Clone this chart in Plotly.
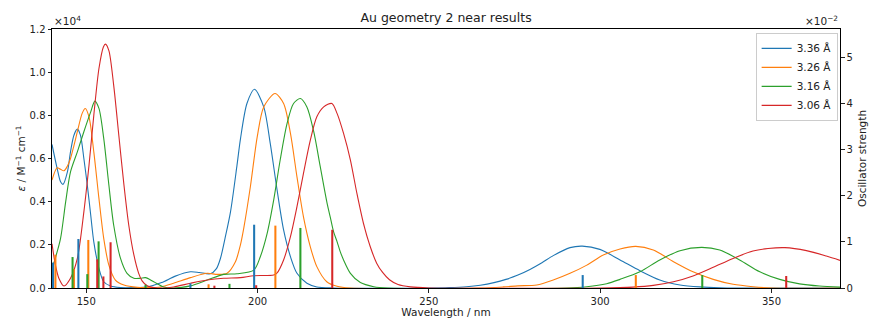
import plotly.graph_objects as go

# ---------------- data ----------------
labels = ["3.36 Å", "3.26 Å", "3.16 Å", "3.06 Å"]
colors = ["#1f77b4", "#ff7f0e", "#2ca02c", "#d62728"]

# broadened spectra (wavelength nm, epsilon M^-1 cm^-1)
blue_wl = [140.0, 141.5, 142.5, 143.2, 144.5, 145.4, 146.4, 147.4, 148.3, 149.3, 150.3, 151.3, 152.2, 153.7,
           155.1, 157.1, 160.0, 164.0, 168.0, 172.0, 176.0, 180.4, 183.0, 186.2, 188.0, 189.2, 190.5, 192.1,
           194.0, 195.0, 196.9, 199.1, 201.8, 203.7, 205.7, 207.6, 209.6, 211.5, 214.4, 217.3, 222.0, 250.0,
           256.0, 261.0, 265.0, 269.0, 272.5, 276.0, 279.5, 283.0, 286.3, 291.2, 294.8, 299.9, 305.8, 311.6,
           317.4, 323.3, 329.1, 335.0, 340.0, 370.0]
blue_eps = [6650, 5540, 4920, 4800, 5380, 6310, 7080, 7360, 7080, 6000, 4770, 3380, 2140, 910,
            290, 90, 20, 20, 60, 250, 550, 750, 720, 660, 900, 1390, 2300, 3530,
            5690, 6900, 8550, 9210, 8390, 6700, 4540, 2690, 1450, 680, 220, 50, 0, 0,
            20, 60, 130, 250, 400, 600, 860, 1170, 1500, 1870, 1940, 1790, 1300, 800,
            370, 140, 50, 10, 0, 0]

orange_wl = [140.0, 141.5, 142.5, 143.5, 144.5, 145.4, 146.4, 147.4, 148.8, 149.7, 150.8, 152.2, 153.7, 155.1,
             156.6, 158.5, 161.0, 165.0, 168.0, 171.7, 175.5, 180.4, 185.3, 188.2, 191.1, 193.5, 195.0, 196.0,
             197.9, 199.9, 201.8, 205.1, 207.6, 209.6, 211.5, 213.4, 215.4, 217.3, 220.2, 223.2, 227.0, 265.0,
             271.7, 276.0, 281.5, 286.3, 291.2, 296.1, 300.9, 305.8, 310.4, 315.5, 321.4, 327.1, 333.0, 338.8,
             344.6, 350.0, 370.0]
orange_eps = [5000, 5570, 5500, 5430, 5650, 6000, 6600, 7240, 8090, 8320, 7930, 6310, 4150, 2300,
              1060, 370, 140, 30, 20, 50, 220, 480, 680, 630, 680, 1200, 2000, 2800,
              4690, 7000, 8390, 9010, 8550, 7160, 5150, 3300, 1910, 990, 290, 80, 0, 0,
              50, 100, 140, 370, 680, 1060, 1530, 1810, 1930, 1760, 1220, 750, 400, 170,
              60, 0, 0]

green_wl = [140.0, 141.0, 142.5, 144.0, 145.4, 147.4, 149.3, 151.3, 152.5, 153.7, 155.1, 156.6, 158.0, 160.0,
            161.9, 163.9, 165.8, 167.3, 169.7, 172.6, 175.5, 180.4, 185.3, 190.1, 194.0, 198.9, 200.8, 202.8,
            204.7, 206.6, 208.6, 210.5, 212.5, 214.4, 216.4, 218.3, 220.3, 221.2, 222.2, 223.2, 224.1, 225.1,
            227.1, 230.0, 233.9, 238.0, 290.0, 296.1, 301.9, 305.8, 311.6, 317.4, 323.3, 329.6, 334.9, 340.7,
            346.6, 352.4, 358.2, 364.0, 370.0]
green_eps = [900, 1400, 2300, 4000, 5380, 6310, 7240, 8160, 8660, 8320, 6930, 4770, 2920, 1370,
             680, 450, 450, 480, 290, 50, 0, 100, 370, 630, 660, 830, 1450, 2530,
             4070, 5930, 7620, 8550, 8780, 8390, 7240, 5620, 3920, 3300, 2600, 2150, 1700, 1300,
             680, 250, 60, 0, 0, 60, 200, 400, 750, 1300, 1730, 1880, 1760, 1300,
             750, 400, 190, 90, 40]

red_wl = [140.0, 141.0, 142.0, 143.5, 145.4, 147.4, 149.3, 150.8, 152.2, 153.7, 155.0, 155.6, 156.6, 158.0,
          159.5, 161.0, 162.4, 163.9, 165.3, 166.3, 167.8, 170.7, 175.5, 180.4, 185.3, 190.1, 195.0, 198.9,
          204.7, 205.7, 207.6, 209.6, 211.5, 213.4, 215.4, 217.3, 219.3, 221.7, 223.2, 225.1, 227.1, 229.0,
          230.9, 232.9, 234.8, 236.5, 238.5, 241.0, 244.6, 250.0, 300.0, 309.6, 315.5, 321.4, 327.1, 333.0,
          338.8, 344.6, 349.0, 353.9, 360.2, 366.0, 370.0]
red_eps = [2050, 1060, 450, 90, 450, 1370, 3530, 5690, 8000, 10170, 11170, 11300, 11000, 9400,
           7080, 4770, 2920, 1530, 680, 330, 100, 0, 50, 220, 370, 450, 480, 570,
           600, 700, 1300, 2380, 3770, 5310, 6850, 7930, 8390, 8550, 8090, 7160, 5930, 4380,
           3000, 1910, 1140, 720, 380, 160, 50, 0, 0, 40, 120, 290, 560, 960,
           1370, 1710, 1830, 1870, 1730, 1480, 1280]

# stick spectra (wavelength nm, oscillator strength)
blue_stick_wl = [140.3, 147.7, 180.4, 199.0, 294.9]
blue_stick_f = [0.0055, 0.0106, 0.0010, 0.0137, 0.0028]
orange_stick_wl = [141.0, 146.4, 150.6, 185.7, 205.2, 310.4]
orange_stick_f = [0.0072, 0.0041, 0.0104, 0.0008, 0.0135, 0.0028]
green_stick_wl = [146.0, 150.3, 153.6, 167.3, 191.8, 212.5, 329.8]
green_stick_f = [0.0067, 0.0030, 0.0101, 0.0007, 0.0009, 0.0130, 0.0028]
red_stick_wl = [153.2, 155.0, 157.1, 187.4, 199.6, 221.8, 354.3]
red_stick_f = [0.0062, 0.0025, 0.0099, 0.0005, 0.0006, 0.0126, 0.0026]

left_ticks = [0, 2000, 4000, 6000, 8000, 10000, 12000]
left_ticktext = ["0.0", "0.2", "0.4", "0.6", "0.8", "1.0", "1.2"]
right_ticks = [0, 0.01, 0.02, 0.03, 0.04, 0.05]
right_ticktext = ["0", "1", "2", "3", "4", "5"]
x_ticks = [150, 200, 250, 300, 350]

curves = [(blue_wl, blue_eps), (orange_wl, orange_eps), (green_wl, green_eps), (red_wl, red_eps)]
sticks = [(blue_stick_wl, blue_stick_f), (orange_stick_wl, orange_stick_f),
          (green_stick_wl, green_stick_f), (red_stick_wl, red_stick_f)]

# ---------------- figure ----------------
fig = go.Figure()
FONT = "DejaVu Sans"

for (wl, eps), lab, col in zip(curves, labels, colors):
    fig.add_trace(go.Scatter(x=wl, y=eps, mode="lines", name=lab,
                             line=dict(color=col, width=1.1, shape="spline", smoothing=0.8),
                             yaxis="y", cliponaxis=True))

for (wl, f), col in zip(sticks, colors):
    fig.add_trace(go.Bar(x=wl, y=f, width=0.6, marker=dict(color=col, line=dict(width=0)),
                         showlegend=False, yaxis="y2"))

fig.update_layout(
    width=870, height=320,
    margin=dict(l=52, r=30, t=29, b=32, autoexpand=False),
    paper_bgcolor="white", plot_bgcolor="white",
    font=dict(family=FONT, size=10, color="#222"),
    barmode="overlay",
    title=dict(text="Au geometry 2 near results", x=0.5127, xanchor="center", y=0.945, yanchor="middle",
               font=dict(size=12.5, family=FONT, color="#222")),
    xaxis=dict(range=[140, 370], tickvals=x_ticks, ticks="outside", ticklen=3.5, tickcolor="#222",
               showline=True, linecolor="black", linewidth=1, mirror=True, showgrid=False, zeroline=False,
               automargin=False,
               title=dict(text="Wavelength / nm", standoff=2, font=dict(size=10.5))),
    yaxis=dict(range=[0, 12000], tickvals=left_ticks, ticktext=left_ticktext, ticks="outside",
               ticklen=3.5, tickcolor="#222", showline=True, linecolor="black", linewidth=1,
               showgrid=False, zeroline=False, automargin=False,
               title=dict(text="<i>ε</i> / M<sup>−1</sup> cm<sup>−1</sup>", standoff=1, font=dict(size=10.5))),
    yaxis2=dict(range=[0, 0.05606], tickvals=right_ticks, ticktext=right_ticktext, overlaying="y",
                side="right", ticks="outside", ticklen=3.5, tickcolor="#222", showline=True,
                linecolor="black", linewidth=1, showgrid=False, zeroline=False, automargin=False,
                title=dict(text="Oscillator strength", standoff=6, font=dict(size=10.5))),
    legend=dict(x=0.997, xanchor="right", y=0.985, yanchor="top", bgcolor="rgba(255,255,255,0.8)",
                bordercolor="#cccccc", borderwidth=1, font=dict(size=10.5, family=FONT),
                itemwidth=30, tracegroupgap=0),
    showlegend=True,
)

fig.add_annotation(text="×10<sup>4</sup>", xref="paper", yref="paper", x=0.0, y=1.0,
                   xanchor="left", yanchor="bottom", showarrow=False, font=dict(size=10.5, family=FONT))
fig.add_annotation(text="×10<sup>−2</sup>", xref="paper", yref="paper", x=1.0, y=1.0,
                   xanchor="right", yanchor="bottom", showarrow=False, font=dict(size=10.5, family=FONT))

fig.write_html("out.html")
